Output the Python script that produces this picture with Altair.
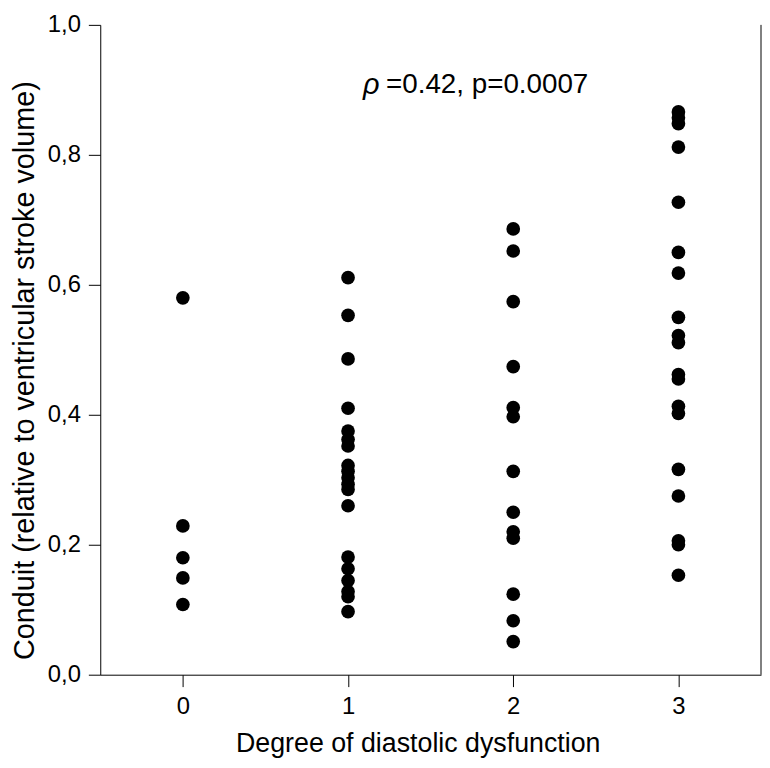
import altair as alt
import pandas as pd

# Values
degrees = [0, 1, 2, 3]
degree_0 = [0.580, 0.229, 0.180, 0.149, 0.108]
degree_1 = [0.611, 0.553, 0.486, 0.410, 0.375, 0.362, 0.352, 0.322, 0.313,
            0.303, 0.293, 0.285, 0.260, 0.181, 0.163, 0.145, 0.128, 0.120, 0.097]
degree_2 = [0.686, 0.652, 0.574, 0.474, 0.411, 0.397, 0.313, 0.250, 0.220,
            0.210, 0.124, 0.083, 0.051]
degree_3 = [0.866, 0.857, 0.848, 0.812, 0.727, 0.650, 0.618, 0.550, 0.522,
            0.511, 0.462, 0.455, 0.413, 0.402, 0.316, 0.275, 0.206, 0.200, 0.153]
y_ticks = [0.0, 0.2, 0.4, 0.6, 0.8, 1.0]
annotation_rho = "ρ"
annotation_rest = "=0.42, p=0.0007"
x_title = "Degree of diastolic dysfunction"
y_title = "Conduit (relative to ventricular stroke volume)"

rows = []
for d, vals in zip(degrees, [degree_0, degree_1, degree_2, degree_3]):
    for v in vals:
        rows.append({"degree": d, "conduit": v})
df = pd.DataFrame(rows)

FONT = "Liberation Sans"
PLOT_H = 655

x_scale = alt.Scale(domain=[-0.5, 3.5], nice=False, zero=False)
y_scale = alt.Scale(domain=[0, 1], nice=False)

x_axis = alt.Axis(
    values=degrees, format="d", title=x_title, grid=False,
    tickSize=12, tickColor="black", domainColor="black",
    labelFontSize=24, labelFont=FONT, labelColor="black", labelPadding=8,
    titleFontSize=27, titleFont=FONT, titleFontWeight="normal",
    titleColor="black", titlePadding=12, titleX=320,
)
y_axis = alt.Axis(
    values=y_ticks, title=y_title, grid=False,
    tickSize=12, tickColor="black", domainColor="black",
    labelFontSize=24, labelFont=FONT, labelColor="black", labelPadding=8,
    labelExpr="replace(format(datum.value, '.1f'), '.', ',')",
    titleFontSize=29, titleFont=FONT, titleFontWeight="normal",
    titleColor="black", titlePadding=8, titleY=348,
)

points = alt.Chart(df).mark_circle(size=190, color="black", opacity=1).encode(
    x=alt.X("degree:Q", scale=x_scale, axis=x_axis),
    y=alt.Y("conduit:Q", scale=y_scale, axis=y_axis),
)

right_border = alt.Chart().mark_rule(color="black", strokeWidth=1).encode(
    x=alt.datum(3.5, scale=x_scale),
    y=alt.datum(0, scale=y_scale),
    y2=alt.datum(1),
)

rho_text = alt.Chart().mark_text(
    align="left", baseline="middle", fontSize=29, font=FONT,
    fontStyle="italic", color="black",
).encode(
    x=alt.datum(1.09, scale=x_scale),
    y=alt.datum(0.908, scale=y_scale),
    text=alt.value(annotation_rho),
)

rest_text = alt.Chart().mark_text(
    align="left", baseline="middle", fontSize=28, font=FONT, color="black",
).encode(
    x=alt.datum(1.23, scale=x_scale),
    y=alt.datum(0.908, scale=y_scale),
    text=alt.value(annotation_rest),
)

chart = alt.layer(points, right_border, rho_text, rest_text).properties(
    width=666, height=PLOT_H,
    autosize=alt.AutoSizeParams(type="none"),
    padding={"left": 93, "top": 14, "right": 1, "bottom": 88},
    background="white",
).configure_view(stroke=None)

chart.save("out.html", embed_options={"renderer": "svg", "actions": False})
